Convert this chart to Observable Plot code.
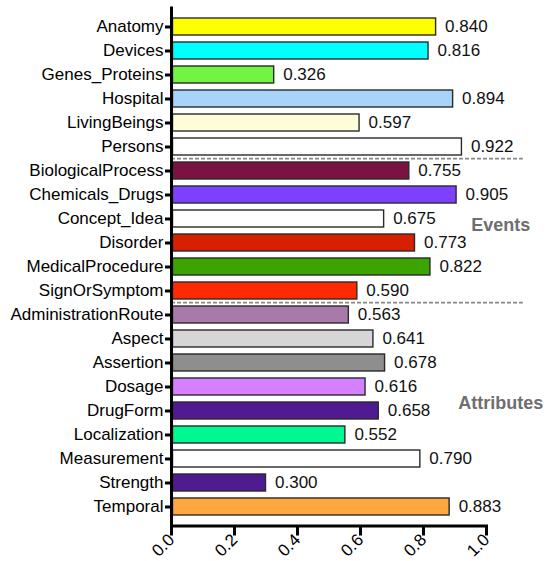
<!DOCTYPE html>
<html>
<head>
<meta charset="utf-8">
<script src="https://cdn.jsdelivr.net/npm/d3@7"></script>
<script src="https://cdn.jsdelivr.net/npm/@observablehq/plot@0.6"></script>
<style>
  html, body { margin: 0; padding: 0; background: white; }
</style>
</head>
<body>
<div id="chart"></div>
<script>
const categories = [
  "Anatomy", "Devices", "Genes_Proteins", "Hospital", "LivingBeings", "Persons",
  "BiologicalProcess", "Chemicals_Drugs", "Concept_Idea", "Disorder", "MedicalProcedure", "SignOrSymptom",
  "AdministrationRoute", "Aspect", "Assertion", "Dosage", "DrugForm", "Localization", "Measurement", "Strength", "Temporal"
];
const values = [
  0.840, 0.816, 0.326, 0.894, 0.597, 0.922,
  0.755, 0.905, 0.675, 0.773, 0.822, 0.590,
  0.563, 0.641, 0.678, 0.616, 0.658, 0.552, 0.790, 0.300, 0.883
];
const colors = [
  "#ffff00", "#00ffff", "#72f542", "#a8d4fa", "#fffcd8", "#ffffff",
  "#7a1242", "#8040ff", "#ffffff", "#d82000", "#3ca400", "#ff2a00",
  "#a87aa8", "#d6d6d6", "#8e8e8e", "#d480ff", "#501a90", "#00f890", "#ffffff", "#501a90", "#ffa840"
];
const xTicks = [0, 0.2, 0.4, 0.6, 0.8, 1.0];
const separatorRows = ["BiologicalProcess", "AdministrationRoute"];
const groupLabels = ["Events", "Attributes"];
const groupRows = ["Concept_Idea", "DrugForm"];
const groupOffsets = [6, -8];

const data = categories.map((c, i) => ({category: c, value: values[i], color: colors[i]}));
const groups = groupLabels.map((g, i) => ({label: g, row: groupRows[i], dy: groupOffsets[i]}));

const marginTop = 6.5, marginBottom = 35.5;
const step = (561 - marginTop - marginBottom) / categories.length;

const chart = Plot.plot({
  width: 546,
  height: 561,
  marginLeft: 171,
  marginRight: 60,
  marginTop,
  marginBottom,
  style: {fontFamily: "'Liberation Sans', Arial, sans-serif", fontSize: "17px", background: "white", color: "black"},
  x: {domain: [0, 1], label: null},
  y: {domain: categories, padding: 0.31, label: null},
  color: {type: "identity"},
  marks: [
    Plot.barX(data, {x: "value", y: "category", fill: "color", stroke: "#2a2a2a", strokeWidth: 1.4, insetLeft: 1.5}),
    Plot.text(data, {x: "value", y: "category", text: d => d.value.toFixed(3), textAnchor: "start", dx: 9, fontSize: 17, fill: "#111"}),
    Plot.ruleY(separatorRows, {y: d => d, x1: 0, x2: 1.117, dy: -step / 2, stroke: "#888", strokeWidth: 1.6, strokeDasharray: "4,2"}),
    ...groups.map(g => Plot.text([g], {x: 1.045, y: "row", text: "label", dy: g.dy, textAnchor: "middle", fontSize: 18, fontWeight: "bold", fill: "#6e6e6e"})),
    Plot.ruleX([0], {stroke: "black", strokeWidth: 3}),
    Plot.axisY({tickSize: 6, tickPadding: 2, strokeWidth: 3, fontSize: 17, label: null}),
    Plot.axisX({ticks: xTicks, tickFormat: d3.format(".1f"), tickSize: 10, strokeWidth: 3, tickRotate: -45, fontSize: 17, label: null, tickPadding: 1}),
    Plot.frame({anchor: "bottom", stroke: "black", strokeWidth: 3})
  ]
});
document.getElementById("chart").appendChild(chart);
</script>
</body>
</html>
